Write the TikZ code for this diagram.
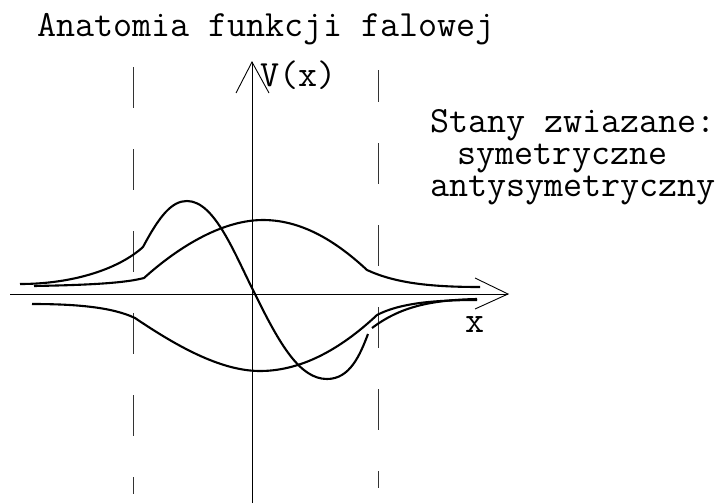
\documentclass[tikz,border=0pt]{standalone}
\begin{document}
\begin{tikzpicture}[x=1pt,y=-1pt,
  axis/.style={line width=0.9pt,black},
  wall/.style={line width=0.9pt,black!80,dash pattern=on 41pt off 41pt},
  wave/.style={line width=2.1pt,black,line join=round},
  lbl/.style={anchor=base west,inner sep=0pt,font=\ttfamily\fontsize{37}{32}\selectfont}]
\useasboundingbox (0,0) rectangle (727,503);
% walls of the well
\coordinate (lwt) at (133,67);
\coordinate (lwb) at (133,494);
\coordinate (rwt) at (378,70);
\coordinate (rwb) at (378,488);
\draw[wall] (lwt) -- (lwb);
\draw[wall,dash phase=9pt] (rwt) -- (rwb);
% axes
\coordinate (xl) at (10,294);
\coordinate (xr) at (508,294);
\coordinate (yb) at (252,503);
\coordinate (yt) at (252,62);
\draw[axis] (xl) -- (xr);
\draw[axis] (475,278) -- (xr) -- (475,309);
\draw[axis] (yb) -- (yt);
\draw[axis] (236,93) -- (yt) -- (269,93);
% symmetric state (positive)
\draw[wave] (34,286) .. controls (90,285) and (125,283) .. (144,278)
  .. controls (175,250) and (220,220) .. (263,220)
  .. controls (305,220) and (340,245) .. (367,270)
  .. controls (395,283) and (430,287) .. (480,287);
% symmetric state (negative)
\draw[wave] (32,304) .. controls (75,304) and (112,307) .. (135,318)
  .. controls (175,345) and (220,371) .. (260,371)
  .. controls (305,371) and (345,345) .. (377,315)
  .. controls (400,303) and (435,300) .. (477,300);
% antisymmetric state
\draw[wave] (20,284) .. controls (75,284) and (120,268) .. (143,247)
  .. controls (160,215) and (172,201) .. (187,201)
  .. controls (215,201) and (235,255) .. (255,294)
  .. controls (280,345) and (300,379) .. (327,379)
  .. controls (350,379) and (360,355) .. (368,334);
\draw[wave] (372,328) .. controls (400,307) and (430,300) .. (477,299);
% labels
\node[lbl] (title) at (37,37) {Anatomia funkcji falowej};
\node[lbl] (vx) at (260,86) {V(x)};
\node[lbl,align=left] (st) at (430,196) {Stany zwiazane:\\\hspace*{27.5pt}symetryczne\\antysymetryczny};
\node[lbl] (xlab) at (465,332) {x};
\end{tikzpicture}
\end{document}
